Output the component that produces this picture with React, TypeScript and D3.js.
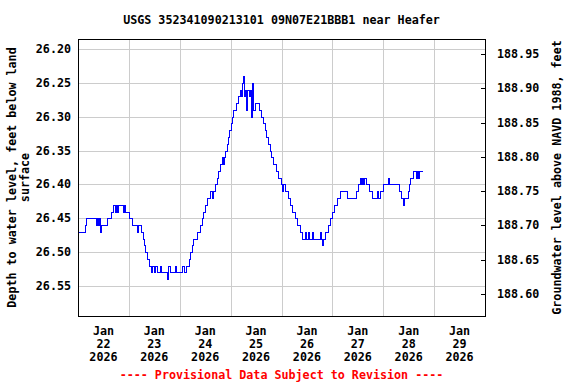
import React from "react";
import * as d3 from "d3";

const TITLE = "USGS 352341090213101 09N07E21BBB1 near Heafer";
const LEFT_TICKS = [26.2, 26.25, 26.3, 26.35, 26.4, 26.45, 26.5, 26.55];
const RIGHT_TICKS = [188.95, 188.9, 188.85, 188.8, 188.75, 188.7, 188.65, 188.6];
const DAY_LABELS = ["22", "23", "24", "25", "26", "27", "28", "29"];

// hours since 2026-01-22 00:00 UTC
const HOURS = [
  0, 3.3, 3.8, 8.5, 9.0, 9.4, 9.9, 10.4, 10.8, 13.7, 15.6, 16.5, 17.5, 17.9, 18.4, 18.9,
  21.2, 21.7, 22.2, 24.1, 25.5, 27.8, 28.3, 29.7, 30.7, 31.1, 31.6, 32.5, 33.5, 34.4, 34.9,
  35.9, 36.3, 37.3, 38.7, 39.2, 42.0, 42.5, 43.4, 45.8, 46.2, 49.1, 50.0, 50.9, 52.4, 52.8,
  53.8, 54.2, 56.1, 57.5, 58.5, 59.0, 59.9, 60.9, 62.3, 63.2, 63.7, 64.6, 65.6, 66.0, 67.0,
  67.9, 68.4, 68.9, 69.3, 70.3, 70.8, 71.2, 72.2, 72.6, 73.1, 74.5, 75.5, 76.4, 76.9, 77.4,
  77.8, 78.3, 78.8, 79.2, 79.7, 80.7, 81.1, 81.6, 82.1, 82.6, 83.5, 85.4, 86.3, 87.3, 88.2,
  88.7, 89.6, 90.6, 91.0, 92.0, 93.4, 94.3, 95.8, 96.2, 96.7, 97.6, 99.1, 100.0, 100.9, 102.4,
  103.3, 104.7, 105.7, 107.1, 107.6, 108.5, 109.0, 110.4, 110.9, 114.2, 114.6, 115.1, 115.6,
  116.5, 117.9, 118.9, 119.8, 120.8, 122.2, 123.6, 126.9, 131.1, 132.1, 133.0, 133.5, 134.0,
  134.4, 134.9, 135.9, 137.3, 138.7, 141.0, 141.5, 142.5, 143.9, 146.2, 146.7, 151.4, 152.4,
  153.3, 153.8, 155.7, 156.1, 156.6, 158.0, 159.4, 159.9, 160.4, 160.9, 162.3,
];
const DEPTH = [
  26.47, 26.46, 26.45, 26.46, 26.45, 26.46, 26.45, 26.47, 26.46, 26.45, 26.44, 26.43, 26.44, 26.43, 26.44, 26.43,
  26.44, 26.43, 26.44, 26.45, 26.46, 26.47, 26.46, 26.47, 26.48, 26.49, 26.5, 26.51, 26.52, 26.53, 26.52,
  26.53, 26.52, 26.53, 26.52, 26.53, 26.54, 26.52, 26.53, 26.52, 26.53, 26.52, 26.53, 26.52, 26.51, 26.5,
  26.49, 26.48, 26.47, 26.46, 26.45, 26.44, 26.43, 26.42, 26.41, 26.42, 26.41, 26.4, 26.39, 26.38, 26.37,
  26.36, 26.37, 26.36, 26.35, 26.34, 26.33, 26.32, 26.31, 26.3, 26.29, 26.28, 26.27, 26.26, 26.27, 26.25,
  26.24, 26.27, 26.26, 26.29, 26.26, 26.27, 26.26, 26.3, 26.25, 26.29, 26.28, 26.29, 26.3, 26.31, 26.32,
  26.33, 26.34, 26.35, 26.36, 26.37, 26.38, 26.39, 26.4, 26.41, 26.4, 26.41, 26.42, 26.43, 26.44, 26.45,
  26.46, 26.47, 26.48, 26.47, 26.48, 26.47, 26.48, 26.47, 26.48, 26.47, 26.48, 26.49, 26.48,
  26.47, 26.46, 26.45, 26.44, 26.43, 26.42, 26.41, 26.42, 26.41, 26.4, 26.39, 26.4, 26.39,
  26.4, 26.39, 26.4, 26.41, 26.42, 26.41, 26.42, 26.41, 26.4, 26.39, 26.4, 26.41, 26.42,
  26.43, 26.42, 26.41, 26.4, 26.39, 26.38, 26.39, 26.38, 26.39, 26.38, 26.38,
];

const W = 576;
const H = 384;
const PL = 78, PR = 485, PT = 39, PB = 316;
const FONT = "'DejaVu Sans Mono', monospace";
const FS = 11.7;

export default function App() {
  const base = Date.UTC(2026, 0, 22);
  const x = d3.scaleUtc().domain([new Date(base), new Date(Date.UTC(2026, 0, 30))]).range([PL, PR]);
  const yL = d3.scaleLinear().domain([26.18523, 26.59431]).range([PT, PB]);
  const yR = d3.scaleLinear().domain([188.9719, 188.5679]).range([PT, PB]);

  const data = HOURS.map((h, i) => ({ t: new Date(base + h * 3600e3), d: DEPTH[i] }));
  const line = d3
    .line<{ t: Date; d: number }>()
    .x((p) => Math.round(x(p.t)) + 0.5)
    .y((p) => Math.round(yL(p.d)) + 0.5)
    .curve(d3.curveStepAfter);

  const dayLines = d3.range(1, 8).map((i) => new Date(base + i * 86400e3));
  const dayCenters = d3.range(0, 8).map((i) => new Date(base + (i + 0.5) * 86400e3));
  const cy = (PT + PB) / 2;

  return (
    <svg
      width={W}
      height={H}
      style={{ position: "absolute", left: 0, top: 0, background: "#fff" }}
      fontFamily={FONT}
      fontWeight="bold"
      fontSize={FS}
    >
      <rect x={0} y={0} width={W} height={H} fill="#fff" />
      <text x={(PL + PR) / 2} y={24} textAnchor="middle" fill="#000">
        {TITLE}
      </text>
      {LEFT_TICKS.map((v) => (
        <line key={"h" + v} x1={PL} x2={PR} y1={Math.round(yL(v)) + 0.5} y2={Math.round(yL(v)) + 0.5} stroke="#cccccc" strokeWidth={1} />
      ))}
      {dayLines.map((d, i) => (
        <line key={"v" + i} x1={Math.round(x(d)) + 0.5} x2={Math.round(x(d)) + 0.5} y1={PT} y2={PB} stroke="#cccccc" strokeWidth={1} />
      ))}
      <path d={line(data) || ""} fill="none" stroke="#0000ff" strokeWidth={1} shapeRendering="crispEdges" />
      <rect x={PL + 0.5} y={PT + 0.5} width={PR - PL} height={PB - PT} fill="none" stroke="#000" strokeWidth={1} shapeRendering="crispEdges" />
      {LEFT_TICKS.map((v) => (
        <text key={"l" + v} x={71} y={yL(v) + 4} textAnchor="end" fill="#000">
          {v.toFixed(2)}
        </text>
      ))}
      {RIGHT_TICKS.map((v) => (
        <g key={"r" + v}>
          <line x1={PR - 4} x2={PR} y1={Math.round(yR(v)) + 0.5} y2={Math.round(yR(v)) + 0.5} stroke="#000" strokeWidth={1} />
          <text x={497} y={yR(v) + 4} textAnchor="start" fill="#000">
            {v.toFixed(2)}
          </text>
        </g>
      ))}
      {dayCenters.map((d, i) => (
        <g key={"x" + i}>
          <text x={x(d)} y={335} textAnchor="middle" fill="#000">Jan</text>
          <text x={x(d)} y={348} textAnchor="middle" fill="#000">{DAY_LABELS[i]}</text>
          <text x={x(d)} y={361} textAnchor="middle" fill="#000">2026</text>
        </g>
      ))}
      <text transform={`translate(16,${cy}) rotate(-90)`} textAnchor="middle" fill="#000">
        Depth to water level, feet below land
      </text>
      <text transform={`translate(29,${cy}) rotate(-90)`} textAnchor="middle" fill="#000">
        surface
      </text>
      <text transform={`translate(561,${cy}) rotate(-90)`} textAnchor="middle" fill="#000">
        Groundwater level above NAVD 1988, feet
      </text>
      <text x={(PL + PR) / 2} y={379} textAnchor="middle" fill="#ff0000">
        ---- Provisional Data Subject to Revision ----
      </text>
    </svg>
  );
}
